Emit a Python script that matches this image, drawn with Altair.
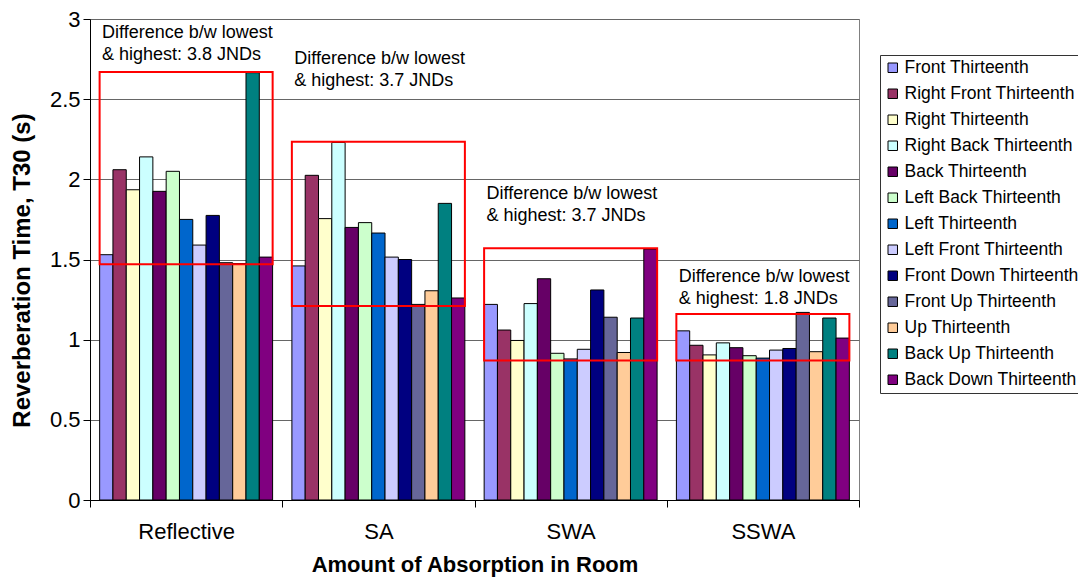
import altair as alt
import pandas as pd

groups = ["Reflective", "SA", "SWA", "SSWA"]
series = [
    "Front Thirteenth", "Right Front Thirteenth", "Right Thirteenth",
    "Right Back Thirteenth", "Back Thirteenth", "Left Back Thirteenth",
    "Left Thirteenth", "Left Front Thirteenth", "Front Down Thirteenth",
    "Front Up Thirteenth", "Up Thirteenth", "Back Up Thirteenth",
    "Back Down Thirteenth",
]
colors = [
    "#9999FF", "#993366", "#FFFFCC", "#CCFFFF", "#660066", "#CCFFCC",
    "#0066CC", "#CCCCFF", "#000080", "#666699", "#FFCC99", "#008080",
    "#800080",
]
reflective = [1.53, 2.06, 1.935, 2.14, 1.925, 2.05, 1.75, 1.59, 1.775, 1.48, 1.475, 2.665, 1.515]
sa = [1.46, 2.025, 1.755, 2.23, 1.70, 1.73, 1.665, 1.515, 1.50, 1.22, 1.305, 1.85, 1.26]
swa = [1.22, 1.06, 0.995, 1.225, 1.38, 0.915, 0.88, 0.94, 1.31, 1.14, 0.92, 1.135, 1.565]
sswa = [1.055, 0.965, 0.905, 0.98, 0.95, 0.90, 0.885, 0.935, 0.945, 1.17, 0.925, 1.135, 1.01]

box_low = [1.47, 1.21, 0.87, 0.87]
box_high = [2.67, 2.235, 1.57, 1.16]
note_jnd = ["3.8", "3.7", "3.7", "1.8"]
note_y = [2.88, 2.717, 1.875, 1.362]

FONT = "Liberation Sans"

rows = []
for g, vals in zip(groups, [reflective, sa, swa, sswa]):
    for s, v in zip(series, vals):
        rows.append({"group": g, "series": s, "value": v})
bars_df = pd.DataFrame(rows)

box_df = pd.DataFrame({"group": groups, "lo": box_low, "hi": box_high})
note_df = pd.DataFrame({
    "group": groups,
    "ty": note_y,
    "label": [f"Difference b/w lowest\n& highest: {j} JNDs" for j in note_jnd],
})

xscale = alt.Scale(domain=groups, paddingInner=0, paddingOuter=0)
yscale = alt.Scale(domain=[0, 3], nice=False)

bars = alt.Chart(bars_df).mark_bar(stroke="black", strokeWidth=1).encode(
    x=alt.X("group:N", sort=groups, scale=xscale,
            axis=alt.Axis(title="Amount of Absorption in Room", labelAngle=0,
                          tickBand="extent", tickSize=7, tickColor="black",
                          domainColor="black", labelFontSize=22, labelFont=FONT,
                          labelColor="black", labelPadding=14,
                          titleFontSize=22, titleFont=FONT, titleFontWeight="bold",
                          titleColor="black", titlePadding=12, grid=False)),
    xOffset=alt.XOffset("series:N", sort=series,
                        scale=alt.Scale(domain=series, paddingInner=0, paddingOuter=0.725)),
    y=alt.Y("value:Q", scale=yscale,
            axis=alt.Axis(title="Reverberation Time, T30 (s)",
                          values=[0, 0.5, 1, 1.5, 2, 2.5, 3],
                          labelExpr="'' + datum.value",
                          tickSize=7, tickColor="black", domainColor="black",
                          gridColor="#666666", labelFontSize=22, labelFont=FONT,
                          labelColor="black", labelPadding=3,
                          titleFontSize=24, titleFont=FONT, titleFontWeight="bold",
                          titleColor="black", titleX=-56, titleY=251)),
    color=alt.Color("series:N", sort=series,
                    scale=alt.Scale(domain=series, range=colors),
                    legend=alt.Legend(title=None, orient="none", legendX=790, legendY=36,
                                      strokeColor="#333333", fillColor="white",
                                      padding=4, symbolType="square", symbolSize=90,
                                      symbolStrokeColor="black", symbolStrokeWidth=1,
                                      labelFontSize=17.5, labelFont=FONT, labelColor="black",
                                      labelLimit=400, rowPadding=7, labelOffset=3)),
)

boxes = alt.Chart(box_df).mark_bar(
    fill="transparent", stroke="#FF0000", strokeWidth=2,
    width=alt.RelativeBandSize(band=0.9),
).encode(
    x=alt.X("group:N", sort=groups, scale=xscale),
    y=alt.Y("lo:Q", scale=yscale),
    y2="hi:Q",
)

notes = alt.Chart(note_df).mark_text(
    align="left", baseline="alphabetic", dx=12, fontSize=18, font=FONT,
    lineBreak="\n", lineHeight=22, color="black",
).encode(
    x=alt.X("group:N", sort=groups, scale=xscale, bandPosition=0),
    y=alt.Y("ty:Q", scale=yscale),
    text="label:N",
)

chart = alt.layer(bars, boxes, notes).properties(
    width=769, height=481,
    autosize=alt.AutoSizeParams(type="none"),
    padding={"left": 82, "top": 11, "right": 219, "bottom": 79},
).configure_view(stroke="#808080", strokeWidth=1)

chart.save("out.html", embed_options={"renderer": "svg", "actions": False})
